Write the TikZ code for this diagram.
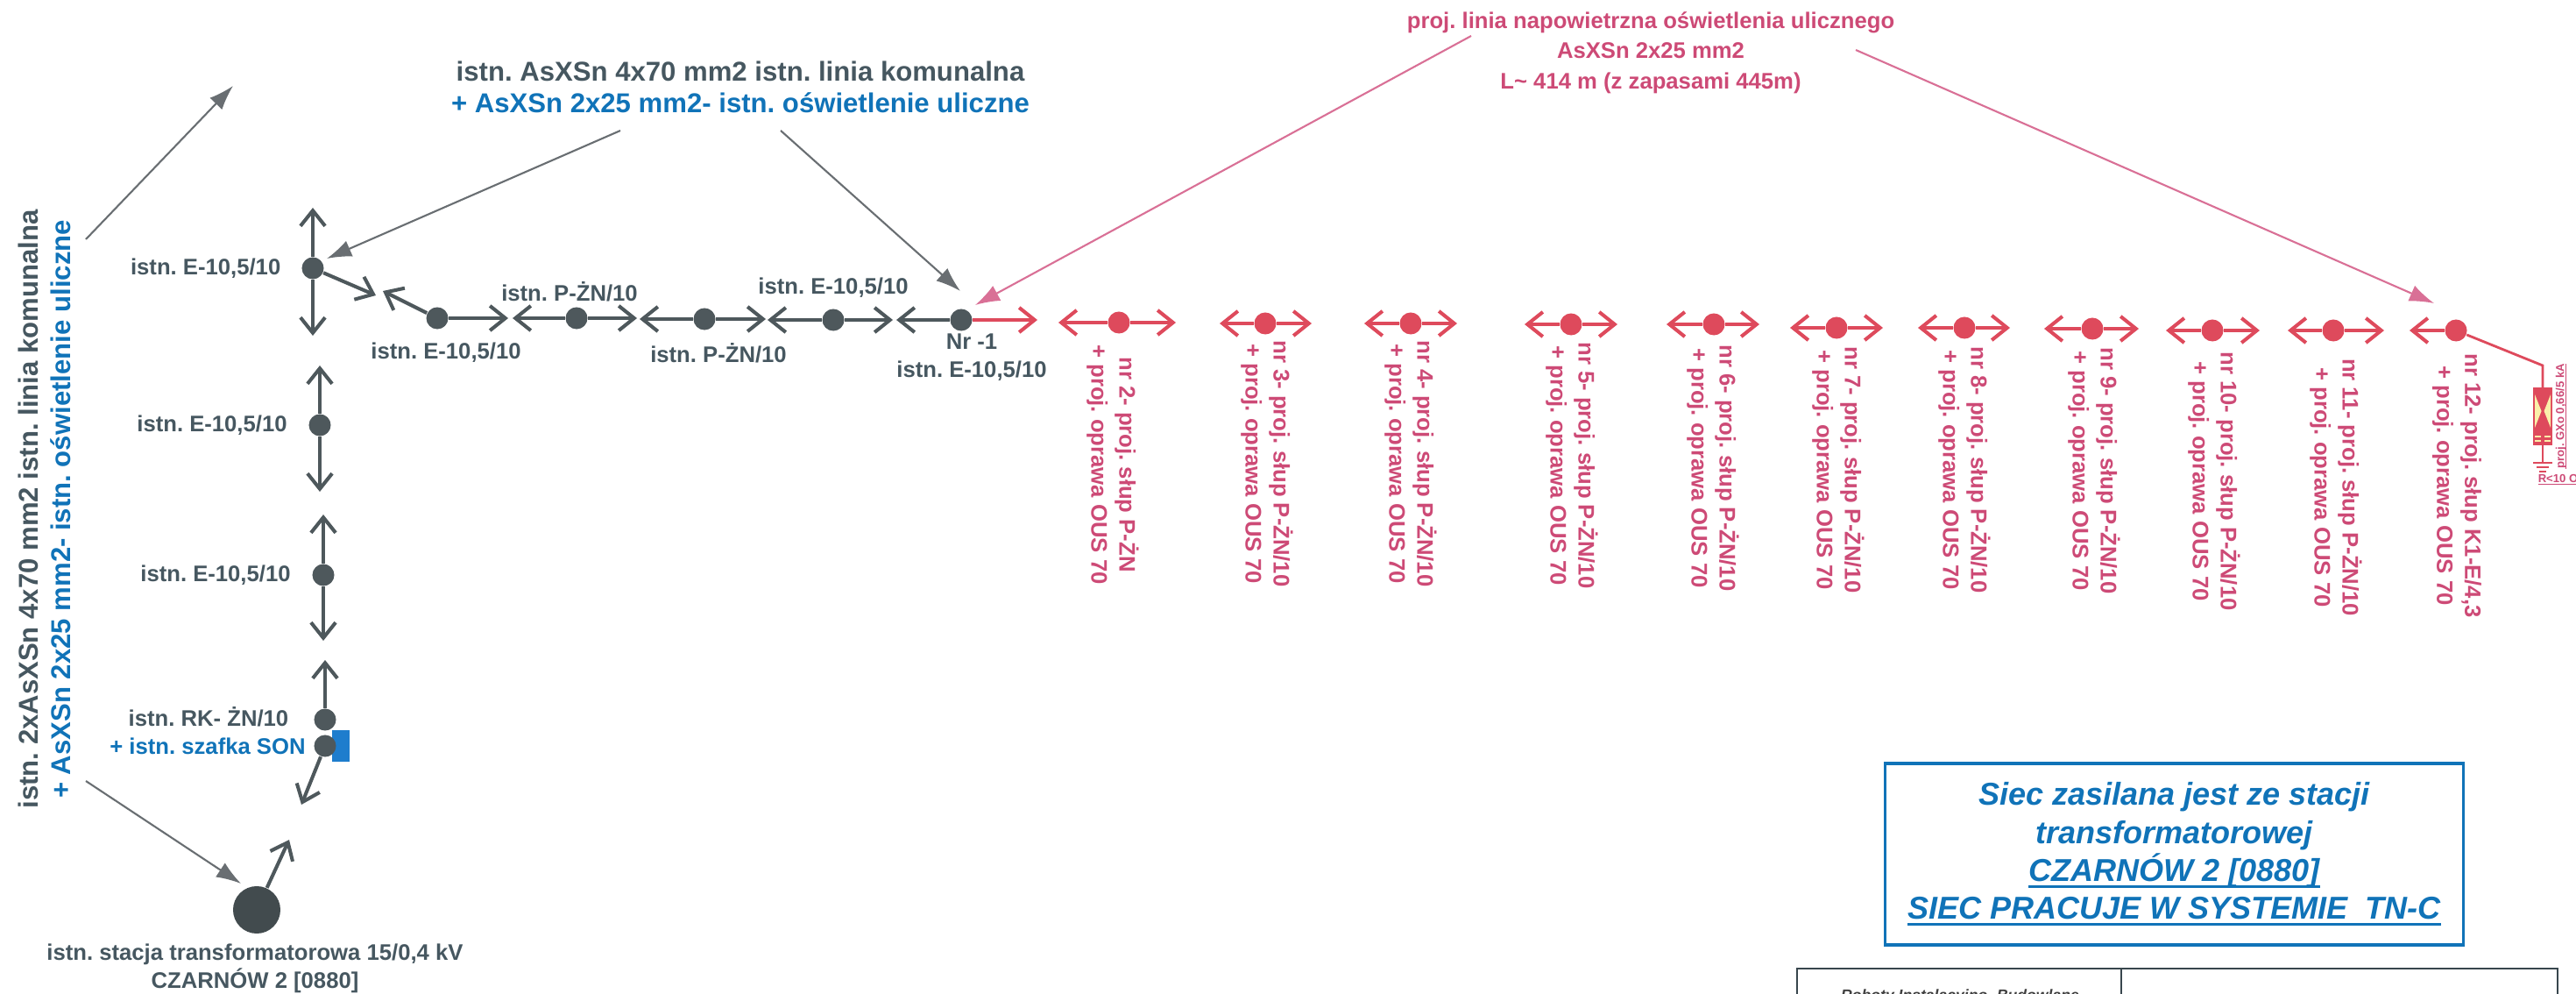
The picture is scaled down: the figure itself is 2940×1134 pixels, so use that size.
\documentclass[tikz,border=0pt]{standalone}
\usepackage{fontspec}
\setmainfont{Liberation Sans}
\usetikzlibrary{arrows.meta}
\usepackage{xcolor}
\newcommand{\thickul}[1]{\setbox0\hbox{#1}\rlap{\rule[-2.1pt]{\wd0}{.9pt}}\box0}
\newcommand{\tinyul}[1]{\setbox0\hbox{#1}\rlap{\rule[-.8pt]{\wd0}{.4pt}}\box0}
\frenchspacing

\begin{document}
\begin{tikzpicture}[x=.01cm, y=-.01cm]

    % style
    \definecolor{mygray}{RGB}{70, 87, 96}
    \definecolor{mypost}{RGB}{78, 88, 92}
    \definecolor{myblue}{RGB}{16, 115, 184}
    \definecolor{mycabinet}{RGB}{30, 125, 205}
    \definecolor{mypink}{RGB}{205, 74, 118}
    \definecolor{myred}{RGB}{222, 74, 92}
    \definecolor{myleader}{RGB}{105, 110, 114}
    \definecolor{mypinkline}{RGB}{217, 112, 150}
    \definecolor{myyellow}{RGB}{250, 240, 170}
    \tikzset{
        font=\bfseries,
        labelfont/.style={font=\fontsize{7.3}{9.1}\selectfont\bfseries, inner sep=0pt, align=center},
        bigfont/.style={font=\fontsize{8.85}{10}\selectfont\bfseries, inner sep=0pt},
        graytext/.style={labelfont, text=mygray},
        bluetext/.style={labelfont, text=myblue},
        pinktext/.style={labelfont, text=mypink},
        polelabel/.style={labelfont, text=mypink, rotate=-90},
        post/.style={circle, fill=mypost, minimum size=.25cm, inner sep=0pt},
        redpost/.style={circle, fill=myred, minimum size=.25cm, inner sep=0pt},
        span/.style={draw=mypost, line width=1.15pt, -{Straight Barb[length=5pt,width=8pt]}},
        redspan/.style={draw=myred, line width=1.15pt, -{Straight Barb[length=5pt,width=8pt]}},
        leader/.style={draw=myleader, line width=.6pt, -{Latex[length=8pt,width=5.5pt]}},
        pinkleader/.style={draw=mypinkline, line width=.6pt, -{Latex[length=8pt,width=5.5pt]}},
    }

    % page, the table and its text are cut off at the bottom
    \path [use as bounding box, clip] (0,0) rectangle (2940,1134);

    % reference coordinates
    \coordinate (NorthTip) at (266,98);
    \coordinate (NorthFoot) at (98,273);
    \coordinate (StationTip) at (275,1008);
    \coordinate (StationFoot) at (98,891);
    \coordinate (CornerTip) at (373,295);
    \coordinate (CornerFoot) at (708,149);
    \coordinate (FirstTip) at (1096,332);
    \coordinate (FirstFoot) at (891,149);
    \coordinate (PinkFootA) at (1679,41);
    \coordinate (PinkTipA) at (1113,348);
    \coordinate (PinkFootB) at (2118,57);
    \coordinate (PinkTipB) at (2778,346);

    % long labels at the left and at the top
    \node [bigfont, text=mygray, rotate=90] (sidegray) at (32,581) {istn. 2xAsXSn 4x70 mm2 istn. linia komunalna};
    \node [bigfont, text=myblue, rotate=90] (sideblue) at (69,581) {+ AsXSn 2x25 mm2- istn. oświetlenie uliczne};
    \node [bigfont, text=mygray] (topgray) at (845,81) {istn. AsXSn 4x70 mm2 istn. linia komunalna};
    \node [bigfont, text=myblue] (topblue) at (845,117) {+ AsXSn 2x25 mm2- istn. oświetlenie uliczne};
    \node [pinktext] (pinktitle) at (1884,60) {proj. linia napowietrzna oświetlenia ulicznego\\[.75pt] AsXSn 2x25 mm2\\[.75pt] L\textasciitilde{} 414 m (z zapasami 445m)};

    % leaders
    \draw [leader] (NorthFoot) -- (NorthTip);
    \draw [leader] (StationFoot) -- (StationTip);
    \draw [leader] (CornerFoot) -- (CornerTip);
    \draw [leader] (FirstFoot) -- (FirstTip);
    \draw [pinkleader] (PinkFootA) -- (PinkTipA);
    \draw [pinkleader] (PinkFootB) -- (PinkTipB);

    % vertical run of existing posts
    \foreach \name/\x/\y/\up/\down in {corner/357/306/237/383, poleb/365/485/417/561, polec/369/656/587/731}
    {
        \node [post] (\name) at (\x,\y) {};
        \coordinate (\name-up) at (\x,\up);
        \coordinate (\name-down) at (\x,\down);
        \draw [span] (\name) -- (\name-up);
        \draw [span] (\name) -- (\name-down);
    }
    \node [graytext, anchor=east] (cornerlabel) at (321,306) {istn. E-10,5/10};
    \node [graytext] (polelabelb) at (242,485) {istn. E-10,5/10};
    \node [graytext] (polelabelc) at (246,656) {istn. E-10,5/10};

    % RK post, cabinet and the station
    \fill [mycabinet] (379,833) rectangle (399,869);
    \node [post] (rkpost) at (371,821) {};
    \node [post] (sonpost) at (371,851) {};
    \coordinate (rkup) at (371,753);
    \coordinate (sondown) at (344,918);
    \draw [span] (rkpost) -- (rkup);
    \draw [span] (sonpost) -- (sondown);
    \node [graytext] (rklabel) at (238,818) {istn. RK- ŻN/10};
    \node [bluetext] (sonlabel) at (237,851) {+ istn. szafka SON};
    \node [circle, fill=mypost!85!black, minimum size=.54cm, inner sep=0pt] (station) at (293,1038) {};
    \coordinate (stationup) at (330,958);
    \draw [span] (station) -- (stationup);
    \node [graytext] (stationlabel) at (291,1105) {istn. stacja transformatorowa 15/0,4 kV\\ CZARNÓW 2 [0880]};

    % horizontal run of existing posts
    \coordinate (cornerdiag) at (429,337);
    \coordinate (hadiag) at (437,332);
    \draw [span] (corner) -- (cornerdiag);
    \foreach \name/\x/\y/\lx/\rx in {ha/499/363/437/580, hb/658/363/585/727, hc/804/364/730/874, hd/951/365/876/1019, he/1097/365/1023/1184}
    {
        \node [post] (\name) at (\x,\y) {};
        \coordinate (\name-left) at (\lx,\y);
        \coordinate (\name-right) at (\rx,\y);
    }
    \draw [span] (ha) -- (hadiag);
    \draw [span] (ha) -- (ha-right);
    \foreach \name in {hb, hc, hd}
    {
        \draw [span] (\name) -- (\name-left);
        \draw [span] (\name) -- (\name-right);
    }
    \draw [span] (he) -- (he-left);
    \draw [redspan] (he) -- (he-right);
    \node [graytext] (halabel) at (509,402) {istn. E-10,5/10};
    \node [graytext] (hblabel) at (650,333) {istn. P-ŻN/10};
    \node [graytext] (hclabel) at (820,403) {istn. P-ŻN/10};
    \node [graytext] (hdlabel) at (951,328) {istn. E-10,5/10};
    \node [graytext] (helabel) at (1109,408) {Nr -1\\ istn. E-10,5/10};

    % designed poles
    \foreach \name/\x/\y/\lx/\rx in {rb/1277/368/1208/1342, rc/1444/369/1392/1497, rd/1610/369/1557/1663, re/1793/370/1740/1846, rf/1956/370/1902/2008, rg/2096/374/2043/2149, rh/2242/374/2189/2294, ri/2388/375/2333/2441, rj/2525/377/2472/2579, rk/2663/377/2611/2721}
    {
        \node [redpost] (\name) at (\x,\y) {};
        \coordinate (\name-left) at (\lx,\y);
        \coordinate (\name-right) at (\rx,\y);
        \draw [redspan] (\name) -- (\name-left);
        \draw [redspan] (\name) -- (\name-right);
    }
    \node [redpost] (rl) at (2803,377) {};
    \coordinate (rl-left) at (2750,377);
    \draw [redspan] (rl) -- (rl-left);

    % pole labels
    \node [polelabel] (rblabel) at (1270,530) {nr 2- proj. słup P-ŻN\\ + proj. oprawa OUS 70};
    \foreach \name/\nr/\x/\y in {rc/3/1446/529, rd/4/1610/529, re/5/1794/531, rf/6/1955/534, rg/7/2098/536, rh/8/2242/536, ri/9/2390/537, rj/10/2527/549, rk/11/2666/556}
    \node [polelabel] (\name-label) at (\x,\y) {nr \nr- proj. słup P-ŻN/10\\ + proj. oprawa OUS 70};
    \node [polelabel] (rllabel) at (2804,554) {nr 12- proj. słup K1-E/4,3\\ + proj. oprawa OUS 70};

    % arrester at the last pole
    \coordinate (arrbend) at (2902,417);
    \coordinate (arrground) at (2902,528);
    \node [draw=myred, fill=myred, line width=.3pt, minimum width=.21cm, minimum height=.64cm, inner sep=0pt] (arrester) at (2902,475) {};
    \draw [draw=myred, line width=.8pt] (rl) -- (arrbend) -- (arrester);
    \draw [draw=myred, line width=.8pt] (arrester) -- (arrground);
    \fill [myyellow] (2893,450) -- (2893,488) -- (2900.5,469) -- cycle;
    \fill [myyellow] (2911,450) -- (2911,488) -- (2903.5,469) -- cycle;
    \foreach \y in {498,503}
    {
        \draw [draw=myyellow, line width=.3pt] (2893,\y) -- (2900,\y);
        \draw [draw=myyellow, line width=.3pt] (2904,\y) -- (2911,\y);
    }
    \draw [draw=myred, line width=.7pt] (2891,528) -- (2913,528);
    \draw [draw=myred, line width=.7pt] (2895,533) -- (2909,533);
    \draw [draw=myred, line width=.7pt] (2898,538) -- (2906,538);
    \node [font=\fontsize{3.73}{4}\selectfont\bfseries, text=mypink, inner sep=0pt, rotate=90] (arrlabel) at (2923,475) {\tinyul{proj. GXo 0,66/5 kA}};
    \node [font=\fontsize{3.73}{4}\selectfont\bfseries, text=mypink, inner sep=0pt, anchor=west] (groundlabel) at (2896,547) {\tinyul{R<10 Ohm}};

    % supply box
    \node [draw=myblue, line width=1pt, minimum width=6.6cm, minimum height=2.07cm, align=center, text=myblue, font=\fontsize{10.25}{12.3}\selectfont\bfseries\itshape, inner sep=0pt] (supplybox) at (2481.5,974.5) {Siec zasilana jest ze stacji\\ transformatorowej\\ \thickul{CZARNÓW 2 [0880]}\\ \thickul{SIEC PRACUJE W SYSTEMIE\ \ TN-C}};

    % title block
    \draw [draw=mygray!80!black, line width=.6pt] (2051,1140) -- (2051,1105) -- (2919,1105) -- (2919,1140);
    \draw [draw=mygray!80!black, line width=.6pt] (2421,1105) -- (2421,1140);
    \node [font=\fontsize{5}{6}\selectfont\bfseries\itshape, text=black!75, inner sep=0pt, anchor=base] (blocklabel) at (2237,1141) {Roboty Instalacyjno- Budowlane};

\end{tikzpicture}
\end{document}
